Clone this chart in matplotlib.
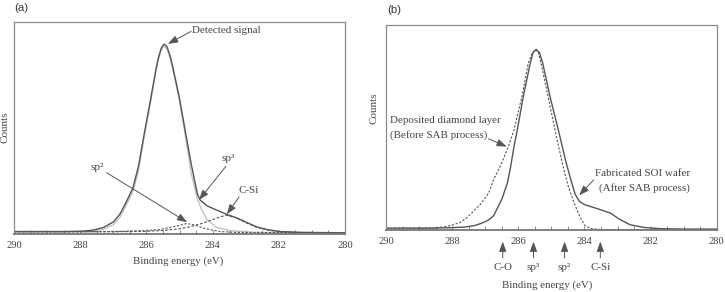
import numpy as np
import matplotlib
matplotlib.use('Agg')
import matplotlib.pyplot as plt

plt.rcParams['font.family'] = ['Liberation Serif', 'DejaVu Serif']

# ---- panel (a): fitted C1s spectrum (counts normalised to axis height) ----
ev_det_a = [290.0, 288.5, 287.9, 287.6, 287.3, 287.0, 286.8, 286.6, 286.41, 286.24,
            286.07, 285.88, 285.72, 285.65, 285.55, 285.47, 285.38, 285.28, 285.22,
            285.01, 284.83, 284.65, 284.46, 284.38, 284.18, 283.88, 283.56, 283.27,
            282.97, 282.67, 282.37, 281.96, 281.26, 280.0]
det_a = [0.013, 0.013, 0.015, 0.020, 0.032, 0.058, 0.095, 0.155, 0.217, 0.32,
         0.47, 0.63, 0.77, 0.825, 0.878, 0.896, 0.884, 0.838, 0.80,
         0.648, 0.49, 0.334, 0.19, 0.162, 0.135, 0.114, 0.093, 0.077,
         0.056, 0.035, 0.023, 0.013, 0.009, 0.007]

ev_sp3_a = [290.0, 288.5, 287.9, 287.6, 287.3, 287.0, 286.8, 286.6, 286.41, 286.24,
            286.07, 285.88, 285.72, 285.65, 285.55, 285.47, 285.38, 285.28, 285.22,
            285.01, 284.83, 284.65, 284.46, 284.33, 284.16, 283.88, 283.47, 282.8, 281.5]
sp3_a = [0.012, 0.012, 0.012, 0.015, 0.024, 0.045, 0.080, 0.140, 0.200, 0.30,
         0.455, 0.615, 0.76, 0.815, 0.868, 0.886, 0.874, 0.828, 0.79,
         0.635, 0.47, 0.29, 0.165, 0.115, 0.067, 0.033, 0.017, 0.010, 0.008]

ev_sp2_a = [290.0, 288.0, 287.0, 286.1, 285.6, 285.3, 285.0, 284.78, 284.5, 284.28,
            284.0, 283.78, 283.3, 282.5, 281.0]
sp2_a = [0.012, 0.012, 0.013, 0.017, 0.022, 0.032, 0.042, 0.051, 0.042, 0.029,
         0.020, 0.013, 0.009, 0.008, 0.008]

ev_csi_a = [290.0, 287.0, 286.0, 285.5, 285.0, 284.7, 284.3, 283.9, 283.6, 283.3,
            283.0, 282.7, 282.4, 282.0, 281.5, 280.0]
csi_a = [0.012, 0.012, 0.014, 0.018, 0.026, 0.035, 0.052, 0.075, 0.090, 0.078,
         0.055, 0.035, 0.022, 0.012, 0.008, 0.007]

# ---- panel (b): before / after SAB ----
ev_after = [290.0, 288.5, 288.0, 287.6, 287.3, 287.1, 286.9, 286.75, 286.5, 286.33,
            286.23, 286.13, 286.03, 285.85, 285.64, 285.56, 285.46, 285.36, 285.26,
            285.04, 284.79, 284.55, 284.41, 284.28, 284.15, 284.0, 283.8, 283.55,
            283.22, 282.95, 282.62, 282.21, 281.71, 281.0, 280.0]
after = [0.011, 0.011, 0.013, 0.016, 0.024, 0.035, 0.05, 0.070, 0.15, 0.23,
         0.31, 0.407, 0.488, 0.650, 0.812, 0.862, 0.880, 0.864, 0.812,
         0.650, 0.488, 0.327, 0.245, 0.175, 0.14, 0.125, 0.115, 0.102,
         0.084, 0.055, 0.027, 0.014, 0.008, 0.006, 0.006]

ev_before = [290.0, 289.0, 288.5, 288.2, 287.96, 287.76, 287.56, 287.41, 287.16, 286.9,
             286.75, 286.5, 286.3, 286.13, 285.89, 285.7, 285.58, 285.49, 285.4, 285.31,
             285.1, 284.89, 284.67, 284.5, 284.33, 284.15, 284.0, 283.8, 283.5, 282.0, 280.0]
before = [0.006, 0.008, 0.012, 0.018, 0.027, 0.038, 0.06, 0.084, 0.124, 0.18,
          0.245, 0.327, 0.407, 0.488, 0.65, 0.812, 0.862, 0.880, 0.866, 0.812,
          0.65, 0.488, 0.327, 0.22, 0.14, 0.07, 0.025, 0.008, 0.004, 0.003, 0.003]

# reference positions marked under panel (b)
marker_labels = ['C-O', 'sp³', 'sp²', 'C-Si']
marker_ev = [286.47, 285.54, 284.6, 283.52]

TXT = '#444444'
LINE = '#555555'
ARROW = dict(arrowstyle='-|>,head_length=0.6,head_width=0.22', color=LINE,
             lw=0.7, mutation_scale=10, shrinkA=0, shrinkB=0)


def style_axis(ax):
    ax.set_xlim(290, 280)
    ax.set_ylim(0, 1)
    ax.set_xticks(np.arange(290, 279, -2))
    ax.set_xticks(np.arange(290, 279.9, -0.5), minor=True)
    ax.set_yticks([])
    ax.tick_params(axis='x', which='both', direction='in', length=3, width=0.6,
                   color='#777777', labelsize=7.6, labelcolor=TXT, pad=5)
    for s in ax.spines.values():
        s.set_color('#8a8a8a')
        s.set_linewidth(0.9)
    ax.spines['bottom'].set_linewidth(1.3)
    ax.spines['bottom'].set_color('#777777')


fig = plt.figure(figsize=(7.25, 2.92), dpi=100)
ax1 = fig.add_axes([0.0193, 0.1976, 0.4566, 0.7271])
ax2 = fig.add_axes([0.5324, 0.2113, 0.4562, 0.7041])

# panel (a)
style_axis(ax1)
ax1.plot(ev_sp3_a, sp3_a, color='#bdbdbd', lw=0.9)
ax1.plot(ev_sp2_a, sp2_a, color=LINE, lw=0.8, dashes=(2, 1.5))
ax1.plot(ev_csi_a, csi_a, color=LINE, lw=0.8, dashes=(2.5, 1.5))
ax1.plot(ev_det_a, det_a, color=LINE, lw=1.0)

ax1.text(284.62, 0.958, 'Detected signal', fontsize=7.9, color=TXT, ha='left', va='center')
ax1.annotate('', xy=(285.35, 0.897), xytext=(284.65, 0.956), arrowprops=ARROW)
ax1.text(287.48, 0.316, 'sp²', fontsize=8, color=TXT, ha='center', va='center')
ax1.annotate('', xy=(284.77, 0.057), xytext=(287.2, 0.29), arrowprops=ARROW)
ax1.text(283.53, 0.358, 'sp³', fontsize=8, color=TXT, ha='center', va='center')
ax1.annotate('', xy=(284.41, 0.162), xytext=(283.6, 0.32), arrowprops=ARROW)
ax1.text(282.9, 0.208, 'C-Si', fontsize=7.9, color=TXT, ha='center', va='center')
ax1.annotate('', xy=(283.57, 0.094), xytext=(283.2, 0.176), arrowprops=ARROW)

ax1.set_xlabel('Binding energy (eV)', fontsize=7.8, color=TXT, va='center')
ax1.xaxis.set_label_coords(0.495, -0.126)
ax1.set_ylabel('Counts', fontsize=8, color=TXT, va='center')
ax1.yaxis.set_label_coords(-0.027, 0.505)
fig.text(0.0193, 0.972, '(a)', fontsize=8.2, family='Liberation Sans', color='#333333',
         ha='left', va='center')

# panel (b)
style_axis(ax2)
ax2.plot(ev_before, before, color=LINE, lw=0.8, dashes=(2, 1.5))
ax2.plot(ev_after, after, color=LINE, lw=1.0)

ax2.text(289.88, 0.497, 'Deposited diamond layer\n(Before SAB process)', fontsize=7.9,
         color=TXT, ha='left', va='center', linespacing=1.75)
ax2.annotate('', xy=(286.35, 0.407), xytext=(286.9, 0.445), arrowprops=ARROW)
ax2.text(280.81, 0.24, 'Fabricated SOI wafer\n(After SAB process)', fontsize=7.9,
         color=TXT, ha='right', va='center', linespacing=1.55, multialignment='right')
ax2.annotate('', xy=(284.16, 0.17), xytext=(283.72, 0.245), arrowprops=ARROW)

for lab, e in zip(marker_labels, marker_ev):
    ax2.annotate(lab, xy=(e, -0.055), xycoords=('data', 'axes fraction'),
                 xytext=(e, -0.18), textcoords=('data', 'axes fraction'),
                 fontsize=7.9, color=TXT, ha='center', va='center',
                 annotation_clip=False,
                 arrowprops=dict(ARROW, shrinkA=1.5))

ax2.set_xlabel('Binding energy (eV)', fontsize=7.8, color=TXT, va='center')
ax2.xaxis.set_label_coords(0.487, -0.266)
ax2.set_ylabel('Counts', fontsize=8, color=TXT, va='center')
ax2.yaxis.set_label_coords(-0.036, 0.593)
fig.text(0.534, 0.965, '(b)', fontsize=8.2, family='Liberation Sans', color='#333333',
         ha='left', va='center')

fig.savefig('out.png', dpi=100)
